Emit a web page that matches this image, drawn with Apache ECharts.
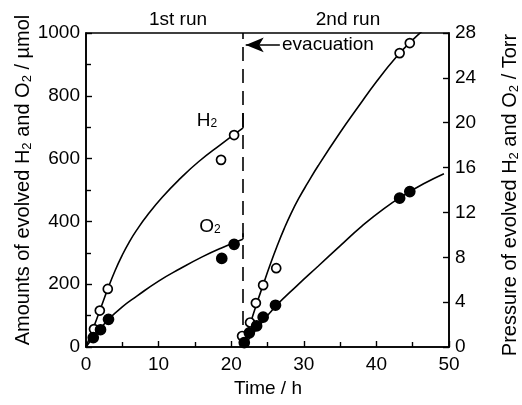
<!DOCTYPE html>
<html><head><meta charset="utf-8">
<script src="https://cdn.jsdelivr.net/npm/echarts@6/dist/echarts.min.js"></script>
<style>html,body{margin:0;padding:0;background:#fff}#c{width:522px;height:405px}</style>
</head><body><div id="c"></div>
<script>
// ---- data ----
const timeRange = [0, 50];          // h
const amountRange = [0, 1000];      // µmol
const pressureRange = [0, 28];      // Torr
const evacuationTime = 21.6;        // h
const evacuationArrow = [[22.0, 962], [26.7, 962]];
const h2EndBar = [[21.6, 697], [21.6, 745]];
const o2EndBar = [[21.6, 343], [21.6, 362]];

// measured points [time h, amount µmol]
const h2Run1 = [[1.1, 57], [1.9, 116], [3.0, 185], [18.6, 596], [20.4, 675]];
const o2Run1 = [[1.0, 30], [2.0, 55], [3.1, 88], [18.7, 282], [20.4, 327]];
const h2Run2 = [[21.5, 35], [22.6, 78], [23.4, 140], [24.4, 197], [26.2, 251], [43.2, 936], [44.6, 968]];
const o2Run2 = [[21.8, 14], [22.5, 45], [23.5, 67], [24.4, 95], [26.1, 133], [43.2, 474], [44.6, 495]];

// fitted curves drawn in the reference
const h2Fit1 = [[0, 0], [1, 60], [2, 122], [3, 185], [4, 243], [5, 293], [6, 336], [7, 373], [8.5, 421], [10.5, 477], [13, 537], [15.5, 590], [18.5, 644], [21.6, 697]];
const o2Fit1 = [[0, 0], [1, 30], [2, 58], [3, 86], [5, 128], [7, 162], [10, 210], [13, 250], [16, 287], [18.5, 314], [21.6, 343]];
const h2Fit2 = [[21.6, 0], [22.6, 72], [23.5, 137], [24.4, 198], [25.3, 258], [26.3, 320], [27.3, 377], [28.3, 428], [29.3, 473], [30.5, 521], [32, 578], [35, 683], [37.5, 765], [40, 845], [42.8, 925], [45, 978], [47, 1020]];
const o2Fit2 = [[21.6, 0], [22.6, 30], [23.5, 57], [24.4, 83], [25.3, 108], [26.2, 132], [29, 194], [32, 258], [35, 322], [38, 385], [41, 440], [43.9, 485], [46.5, 520], [49.3, 552]];

const FONT = '"Liberation Sans", Arial, Helvetica, sans-serif';
const chart = echarts.init(document.getElementById('c'), null, {renderer: 'canvas'});

const sub = {
  a: {fontSize: 19, fontFamily: FONT, color: '#000', verticalAlign: 'bottom', lineHeight: 22},
  s: {fontSize: 12, fontFamily: FONT, color: '#000', verticalAlign: 'bottom', lineHeight: 14}
};
const subBig = {
  a: {fontSize: 20, fontFamily: FONT, color: '#000', verticalAlign: 'bottom', lineHeight: 23},
  s: {fontSize: 13, fontFamily: FONT, color: '#000', verticalAlign: 'bottom', lineHeight: 15}
};

function curve(name, data) {
  return {name, type: 'line', data, smooth: 0.5, symbol: 'none', clip: true,
    lineStyle: {color: '#000', width: 1.6}, silent: true, z: 2};
}
function pts(name, data, filled) {
  return {name, type: 'scatter', data, symbol: 'circle', symbolSize: filled ? 10 : 9,
    itemStyle: {color: filled ? '#000' : '#fff', borderColor: '#000', borderWidth: 1.7, opacity: 1}, z: 5};
}

const axisCommon = {
  axisLine: {show: true, lineStyle: {color: '#000', width: 1.6}},
  axisTick: {show: true, inside: true, length: 6, lineStyle: {color: '#000', width: 1.4}},
  axisLabel: {color: '#000', fontSize: 19, fontFamily: FONT, margin: 6, formatter: v => String(v)},
  splitLine: {show: false}
};

chart.setOption({
  animation: false,
  backgroundColor: '#fff',
  grid: {left: 86, right: 73, top: 33, bottom: 58, show: true, borderColor: '#000', borderWidth: 1.6},
  xAxis: Object.assign({}, axisCommon, {
    type: 'value', min: timeRange[0], max: timeRange[1], interval: 10,
    minorTick: {show: true, splitNumber: 2, length: 5, lineStyle: {color: '#000', width: 1.4}},
    axisLabel: Object.assign({}, axisCommon.axisLabel, {margin: 8})
  }),
  yAxis: [
    Object.assign({}, axisCommon, {
      type: 'value', min: amountRange[0], max: amountRange[1], interval: 200, position: 'left',
      minorTick: {show: true, splitNumber: 2, length: 5, lineStyle: {color: '#000', width: 1.4}}
    }),
    Object.assign({}, axisCommon, {
      type: 'value', min: pressureRange[0], max: pressureRange[1], interval: 4, position: 'right'
    })
  ],
  series: [
    Object.assign(curve('H2 fit 1', h2Fit1), {
      markLine: {silent: true, symbol: 'none', label: {show: false},
        lineStyle: {color: '#000', width: 1.6, type: [14, 8]},
        data: [{xAxis: evacuationTime}]}
    }),
    Object.assign(curve('O2 fit 1', o2Fit1), {
      markLine: {silent: true, symbol: 'none', label: {show: false},
        lineStyle: {color: '#000', width: 1.6, type: 'solid'},
        data: [[{coord: h2EndBar[0]}, {coord: h2EndBar[1]}], [{coord: o2EndBar[0]}, {coord: o2EndBar[1]}]]}
    }),
    Object.assign(curve('H2 fit 2', h2Fit2), {
      markLine: {silent: true, symbol: ['arrow', 'none'], symbolSize: [11, 18], label: {show: false},
        lineStyle: {color: '#000', width: 1.6, type: 'solid'},
        data: [[{coord: evacuationArrow[0]}, {coord: evacuationArrow[1]}]]}
    }),
    curve('O2 fit 2', o2Fit2),
    pts('H2 run 1', h2Run1, false),
    pts('O2 run 1', o2Run1, true),
    pts('H2 run 2', h2Run2, false),
    pts('O2 run 2', o2Run2, true)
  ],
  graphic: [
    {type: 'text', x: 178, y: 20, style: {text: '1st run', align: 'center', verticalAlign: 'middle', fontSize: 19, fontFamily: FONT, fill: '#000'}},
    {type: 'text', x: 348, y: 20, style: {text: '2nd run', align: 'center', verticalAlign: 'middle', fontSize: 19, fontFamily: FONT, fill: '#000'}},
    {type: 'text', x: 282, y: 45, style: {text: 'evacuation', align: 'left', verticalAlign: 'middle', fontSize: 19, fontFamily: FONT, fill: '#000'}},
    {type: 'text', x: 207, y: 119, style: {text: '{a|H}{s|2}', rich: sub, align: 'center', verticalAlign: 'middle'}},
    {type: 'text', x: 210, y: 225, style: {text: '{a|O}{s|2}', rich: sub, align: 'center', verticalAlign: 'middle'}},
    {type: 'text', x: 268, y: 389, style: {text: 'Time / h', align: 'center', verticalAlign: 'middle', fontSize: 19, fontFamily: FONT, fill: '#000'}},
    {type: 'text', x: 22, y: 180, rotation: Math.PI / 2,
      style: {text: '{a|Amounts of evolved H}{s|2}{a| and O}{s|2}{a| / µmol}', rich: subBig, align: 'center', verticalAlign: 'middle'}},
    {type: 'text', x: 509, y: 195, rotation: Math.PI / 2,
      style: {text: '{a|Pressure of evolved H}{s|2}{a| and O}{s|2}{a| / Torr}', rich: subBig, align: 'center', verticalAlign: 'middle'}}
  ]
});
</script></body></html>
